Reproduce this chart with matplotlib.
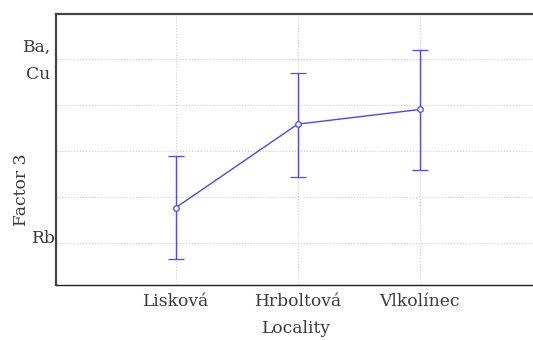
import matplotlib
matplotlib.use('Agg')
import matplotlib.pyplot as plt

# data
localities = ['Lisková', 'Hrboltová', 'Vlkolínec']
means = [-0.62, 0.29, 0.45]
upper = [-0.06, 0.85, 1.10]
lower = [-1.18, -0.28, -0.21]

yerr_low = [m - l for m, l in zip(means, lower)]
yerr_up = [u - m for m, u in zip(means, upper)]

plt.rcParams['font.family'] = ['DejaVu Serif']
fs = 12.3
tc = '#3a3a3a'

fig = plt.figure(figsize=(5.33, 3.4), dpi=100)
ax = fig.add_axes([0.105, 0.162, 0.9, 0.797])

x = list(range(len(localities)))
blue = '#4a4af0'
ax.errorbar(x, means, yerr=[yerr_low, yerr_up], color=blue, ecolor=blue,
            elinewidth=1, capsize=6, capthick=1, linewidth=1,
            marker='o', markersize=4, markerfacecolor='white',
            markeredgecolor=blue, markeredgewidth=0.9, zorder=3)

ax.set_xlim(-0.98, 2.95)
ax.set_ylim(-1.46, 1.49)
ax.set_xticks(x)
ax.set_xticklabels(localities, fontsize=fs, color=tc)
ax.set_yticks([-1.0, -0.5, 0.0, 0.5, 1.0])
ax.set_yticklabels([])
ax.tick_params(axis='y', length=0)
ax.tick_params(axis='x', length=0, pad=6)
ax.grid(True, color='#cccccc', linestyle=':', linewidth=0.8)

ax.spines['right'].set_visible(False)
ax.spines['top'].set_color('#444444')
ax.spines['top'].set_linewidth(1.6)
ax.spines['left'].set_color('#444444')
ax.spines['left'].set_linewidth(1.6)
ax.spines['bottom'].set_color('#222222')
ax.spines['bottom'].set_linewidth(1.0)

ax.set_xlabel('Locality', fontsize=fs, color=tc, labelpad=7)
ax.set_ylabel('Factor 3', fontsize=fs, color=tc)
ax.yaxis.set_label_coords(-0.055, 0.35)

ax.text(-0.012, 0.827, 'Ba,\nCu', transform=ax.transAxes, ha='right', va='center',
        fontsize=fs, color=tc, linespacing=1.75)
ax.text(-0.003, 0.173, 'Rb', transform=ax.transAxes, ha='right', va='center',
        fontsize=fs, color=tc)

fig.savefig('out.png', dpi=100)
